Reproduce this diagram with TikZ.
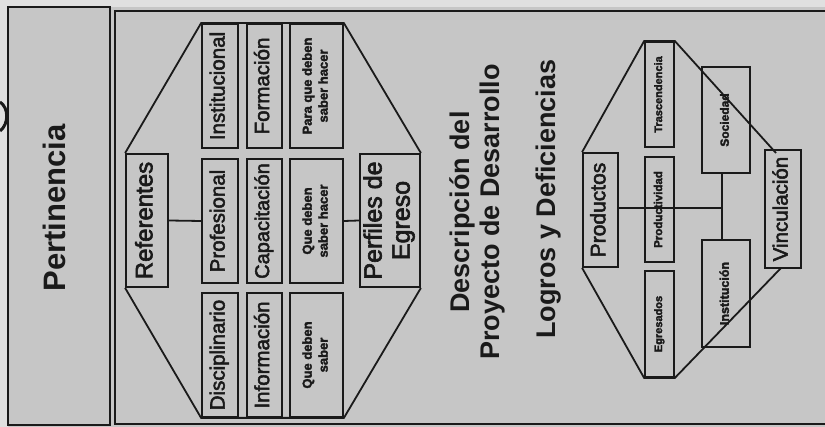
\documentclass[tikz,border=0pt]{standalone}
\usepackage{fontspec}
\setmainfont{Liberation Sans}
\newfontfamily\labelfont[FakeBold=2.5]{Liberation Sans}
\usepackage{graphicx}
\usetikzlibrary{calc}

\definecolor{ink}{HTML}{1A1A1A}
\definecolor{paper}{HTML}{C6C6C6}
\definecolor{rim}{HTML}{E0E0E0}

% vertical text: size, baselineskip, lines
\newcommand{\vt}[3]{\rotatebox{90}{\fontsize{#1}{#2}\selectfont\begin{tabular}{@{}c@{}}#3\end{tabular}}}
% box from two corners: name, x1, y1, x2, y2, text
\newcommand{\mkbox}[6]{\node[box, minimum width={#4-#2}, minimum height={#5-#3}] (#1) at ({(#2+#4)/2},{(#3+#5)/2}) {#6};}

\tikzset{
  box/.style={draw=ink, line width=1.8pt, rectangle, inner sep=0pt, text=ink, font=\labelfont},
  edge/.style={draw=ink, line width=1.8pt, line join=miter},
  panel/.style={draw=ink, line width=1.4pt, fill=paper},
  title/.style={inner sep=0pt, text=ink},
}

\begin{document}
\begin{tikzpicture}[x=1pt, y=-1pt]
\useasboundingbox (0,0) rectangle (825,427);
\fill[rim] (0,0) rectangle (825,427);
\fill[paper] (8,7) rectangle (825,427);

% outer panels
\draw[panel] (8,7) rectangle (110,425);
\draw[panel] (115,11) rectangle (827,424);

% mark at the left edge
\draw[ink, line width=3pt] (0,102) .. controls (9,108) and (9,124) .. (0,131);

% left panel title
\node[title] (pert) at (59,208) {\vt{31}{34}{\bfseries Pertinencia}};

% ---- referentes / perfiles block ----
\mkbox{ref}{126}{154}{168}{287}{\vt{24}{27}{Referentes}}
\mkbox{perf}{360}{154}{420}{287}{\vt{25}{28}{Perfiles de\\Egreso}}

\mkbox{inst}{202}{24}{238}{148}{\vt{20.5}{23}{Institucional}}
\mkbox{prof}{202}{159}{238}{283}{\vt{20.5}{23}{Profesional}}
\mkbox{disc}{202}{293}{238}{417}{\vt{20.5}{23}{Disciplinario}}

\mkbox{form}{247}{24}{282}{148}{\vt{20.5}{23}{Formación}}
\mkbox{capa}{247}{159}{282}{283}{\vt{20}{23}{Capacitación}}
\mkbox{info}{247}{293}{282}{417}{\vt{20.5}{23}{Información}}

\mkbox{psh}{290}{24}{343}{148}{\vt{13}{16}{\bfseries Para que deben\\\bfseries saber hacer}}
\mkbox{qsh}{290}{159}{343}{283}{\vt{13}{16}{\bfseries Que deben\\\bfseries saber hacer}}
\mkbox{qs}{290}{293}{343}{417}{\vt{13}{16}{\bfseries Que deben\\\bfseries saber}}

\draw[edge] (ref.north west) -- (inst.north west) -- (psh.north east) -- (perf.north east);
\draw[edge] (ref.south west) -- (disc.south west) -- (qs.south east) -- (perf.south east);
\draw[edge] (ref.east) -- (prof.west);
\draw[edge] (qsh.east) -- (perf.west);

% ---- central titles ----
\node[title] (desc) at (478,212) {\vt{27}{30}{\bfseries Descripción del\\\bfseries Proyecto de Desarrollo}};
\node[title] (logr) at (549,199) {\vt{27}{30}{\bfseries Logros y Deficiencias}};

% ---- productos block ----
\mkbox{prod}{583}{153}{618}{267}{\vt{21}{24}{Productos}}
\mkbox{tras}{645}{42}{674}{147}{\vt{11}{13}{\bfseries Trascendencia}}
\mkbox{prdv}{645}{157}{674}{262}{\vt{11.5}{13}{\bfseries Productividad}}
\mkbox{egre}{645}{271}{674}{377}{\vt{11}{13}{\bfseries Egresados}}
\mkbox{soci}{702}{67}{750}{173}{\vt{12}{14}{\bfseries Sociedad}}
\mkbox{inti}{702}{240}{750}{347}{\vt{12.5}{14}{\bfseries Institución}}
\mkbox{vinc}{765}{150}{801}{268}{\vt{20.5}{23}{Vinculación}}

\coordinate (vtop) at (776,153);
\coordinate (vbot) at (781,268);
\draw[edge] (prod.north west) -- (tras.north west) -- (tras.north east) -- (vtop);
\draw[edge] (prod.south west) -- (egre.south west) -- (egre.south east) -- (vbot);
\coordinate (bus) at (722,208);
\draw[edge] (prod.east |- bus) -- (bus);
\draw[edge] (soci.south -| bus) -- (inti.north -| bus);
\end{tikzpicture}
\end{document}
